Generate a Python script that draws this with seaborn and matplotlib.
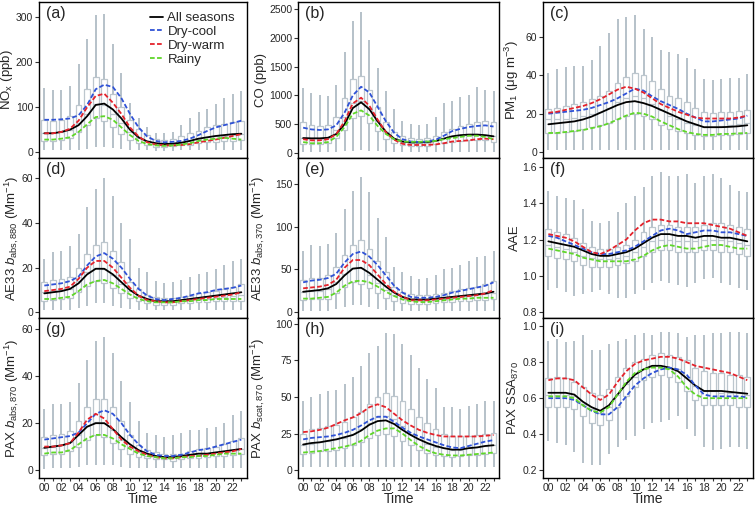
import numpy as np
import pandas as pd
import matplotlib
matplotlib.use('Agg')
import matplotlib.pyplot as plt
import seaborn as sns

hours = list(range(24))
even_hours = [0, 2, 4, 6, 8, 10, 12, 14, 16, 18, 20, 22]
even_labels = ['00', '02', '04', '06', '08', '10', '12', '14', '16', '18', '20', '22']
series_names = ['All seasons', 'Dry-cool', 'Dry-warm', 'Rainy']

# (a) NOx
nox_lo = [5, 4, 4, 4, 5, 8, 12, 12, 10, 7, 5, 4, 4, 3, 3, 3, 4, 4, 5, 5, 5, 5, 5, 5]
nox_q1 = [25, 25, 28, 32, 45, 60, 75, 70, 55, 40, 28, 20, 15, 12, 12, 13, 15, 17, 20, 22, 23, 24, 25, 26]
nox_med = [42, 42, 45, 50, 65, 85, 108, 105, 85, 65, 45, 32, 24, 19, 18, 19, 22, 26, 30, 33, 35, 37, 38, 40]
nox_q3 = [72, 70, 72, 80, 105, 140, 168, 163, 130, 100, 72, 52, 38, 30, 28, 30, 35, 42, 48, 55, 60, 63, 66, 70]
nox_hi = [142, 138, 138, 148, 195, 252, 305, 307, 240, 175, 110, 75, 55, 42, 42, 45, 60, 75, 90, 95, 108, 120, 130, 135]
nox_all = [42, 42, 45, 50, 60, 80, 105, 108, 95, 75, 50, 33, 24, 20, 18, 19, 21, 25, 30, 33, 36, 38, 40, 41]
nox_cool = [72, 72, 73, 75, 82, 105, 140, 150, 145, 120, 85, 55, 35, 25, 22, 23, 25, 30, 38, 47, 55, 60, 65, 70]
nox_warm = [42, 42, 45, 52, 70, 100, 125, 130, 110, 85, 55, 35, 22, 17, 15, 15, 16, 18, 22, 25, 28, 32, 36, 40]
nox_rainy = [28, 28, 30, 33, 45, 62, 78, 80, 72, 55, 38, 25, 18, 15, 14, 15, 17, 20, 25, 28, 30, 32, 30, 28]

# (b) CO
co_lo = [20, 15, 15, 15, 20, 30, 40, 50, 40, 30, 20, 15, 15, 15, 15, 15, 20, 20, 20, 20, 20, 20, 20, 20]
co_q1 = [160, 150, 150, 170, 260, 400, 600, 640, 520, 380, 250, 180, 140, 130, 125, 130, 150, 180, 200, 210, 220, 230, 220, 200]
co_med = [260, 240, 240, 260, 400, 620, 870, 900, 760, 560, 360, 250, 200, 180, 175, 180, 210, 260, 290, 310, 320, 330, 320, 300]
co_q3 = [530, 480, 470, 490, 630, 950, 1290, 1340, 1100, 800, 530, 370, 290, 260, 250, 260, 300, 360, 420, 470, 500, 540, 560, 530]
co_hi = [1120, 1040, 1010, 990, 1180, 1760, 2290, 2450, 1960, 1480, 1080, 760, 560, 500, 490, 500, 620, 870, 900, 970, 1000, 1150, 1100, 1080]
co_all = [260, 255, 255, 265, 330, 500, 780, 880, 760, 550, 370, 250, 200, 185, 185, 190, 210, 250, 290, 310, 320, 320, 310, 290]
co_cool = [440, 410, 400, 410, 480, 700, 1000, 1150, 1050, 800, 550, 350, 240, 200, 190, 200, 230, 300, 380, 420, 450, 470, 480, 460]
co_warm = [240, 220, 220, 240, 330, 550, 860, 960, 820, 580, 360, 230, 160, 140, 140, 140, 150, 170, 200, 210, 220, 240, 250, 240]
co_rainy = [190, 170, 170, 190, 280, 450, 680, 740, 650, 470, 330, 240, 200, 195, 195, 200, 210, 240, 260, 280, 300, 300, 280, 240]

# (c) PM1
pm_lo = [1, 1, 1, 1, 1, 1, 1, 1, 1, 1, 1, 1, 1, 1, 1, 1, 1, 1, 1, 1, 1, 1, 1, 1]
pm_q1 = [10, 10, 10.5, 11, 12, 13, 14, 15, 17, 19, 20, 19, 17, 14, 12, 11, 10, 9, 8.5, 8.5, 9, 9, 9.5, 10]
pm_med = [17, 17, 17.5, 18, 19, 20, 21, 23, 26, 28, 29, 28, 25, 22, 19, 17, 15, 14, 13, 13, 13.5, 14, 14.5, 15]
pm_q3 = [22.5, 23, 24, 25, 26, 27.5, 29, 32, 36, 39, 41, 40, 37, 33, 29, 28, 26, 23, 21, 20.5, 21, 21, 21.5, 22]
pm_hi = [41, 43, 44, 45, 45, 48, 55, 62, 69, 70, 71, 64, 60, 53, 52, 51, 49, 43, 38, 37.5, 38, 38.7, 38.7, 40.7]
pm_all = [14.5, 15, 15.5, 16, 17, 18.5, 20.5, 22.5, 24.5, 26, 26.5, 25.5, 24, 22, 20, 18, 16, 14.5, 13, 13, 13, 13.2, 13.5, 14]
pm_cool = [20, 20.5, 21, 21.5, 22, 23, 24.5, 26, 28, 30.5, 33, 32, 29, 26.5, 24.5, 22.5, 20, 18, 16, 16, 16.5, 17, 17.5, 19]
pm_warm = [20.5, 21, 22, 23, 24, 25.5, 27.5, 30, 32.5, 34, 33, 31, 28, 25, 23, 21, 19.5, 18, 17.5, 17.5, 17.5, 17.5, 18, 19]
pm_rainy = [10, 10, 10.5, 11, 11.5, 12.5, 13.5, 15, 17, 19, 20.5, 20, 18.5, 16, 14, 12, 10.5, 9.5, 9, 9, 9.5, 9.5, 9.8, 10]

# (d) AE33 babs,880
ae880_lo = [1, 1, 1, 1, 2, 3, 4, 4, 3, 2, 1.5, 1, 1, 1, 1, 1, 1, 1, 1, 1, 1, 1, 1, 1]
ae880_q1 = [5, 5.5, 6, 6.5, 9, 12, 14, 13, 11, 8.5, 6.5, 5, 4, 3.5, 3.5, 3.5, 4, 4, 4.5, 4.5, 5, 5, 5, 5]
ae880_med = [9, 9.5, 10, 10.5, 14, 18, 20, 19.5, 16.5, 12.5, 9.5, 7, 5.5, 5, 5, 5, 5, 5.5, 6, 6, 6.5, 7, 7.5, 8]
ae880_q3 = [13.5, 14.5, 15, 16, 20, 26, 30, 31.5, 27.5, 22.5, 13.5, 10.5, 8, 7, 6.5, 6.5, 7, 7.5, 8.5, 9, 9.5, 10.5, 11.5, 12.5]
ae880_hi = [24, 27, 27.5, 29.5, 35, 47, 55, 60, 52, 40, 33, 20, 18, 14, 13, 13.5, 14.5, 16, 17, 18, 19.5, 21, 23, 24]
ae880_all = [8.5, 9, 9.5, 10.5, 13, 17, 19.5, 19.5, 17, 13.5, 10, 7.5, 6, 5, 5, 5, 5.5, 6, 6.5, 7, 7.5, 8, 8.5, 9]
ae880_cool = [12, 12.5, 13, 14, 16, 21, 25, 26.5, 24, 20, 15, 10.5, 7.5, 6, 5.5, 6, 6.5, 7.5, 8.5, 9, 10, 10.5, 11, 12]
ae880_warm = [9.5, 10, 10.5, 11.5, 15, 20, 23, 23, 20, 15.5, 11, 7.5, 5.5, 5, 4.5, 4.5, 5, 5.5, 6, 6.5, 7, 7.5, 8, 9]
ae880_rainy = [6, 6, 6.5, 7, 9.5, 12.5, 14, 14.5, 13, 10.5, 8, 6, 5, 4.5, 4.5, 4.5, 5, 5, 5.5, 5.5, 6, 6, 6, 6]

# (e) AE33 babs,370
ae370_lo = [2, 2, 2, 2, 4, 6, 8, 8, 6, 4, 3, 2, 2, 2, 2, 2, 2, 2, 2, 2, 2, 2, 2, 2]
ae370_q1 = [14, 15, 15, 16, 22, 30, 35, 33, 28, 22, 17, 13, 11, 10, 10, 10, 11, 12, 12, 13, 13, 14, 14, 15]
ae370_med = [24, 25, 25, 27, 35, 45, 52, 52, 44, 34, 26, 20, 16, 14, 14, 14, 15, 16, 17, 18, 19, 20, 21, 22]
ae370_q3 = [38, 40, 40, 43, 53, 67, 78, 84, 74, 60, 47, 30, 24, 21, 20, 20, 21, 23, 25, 27, 28, 30, 33, 37]
ae370_hi = [72, 78, 77, 80, 92, 120, 142, 158, 140, 110, 88, 53, 47, 42, 39, 40, 43, 50, 52, 55, 60, 64, 66, 71]
ae370_all = [24, 25, 26, 28, 33, 43, 51, 52, 46, 38, 30, 23, 18, 15, 15, 15, 16, 17, 18, 19, 20, 21, 22, 24]
ae370_cool = [35, 37, 38, 40, 45, 58, 68, 71, 65, 55, 43, 31, 23, 18, 17, 17, 18, 20, 23, 25, 27, 29, 31, 35]
ae370_warm = [28, 29, 30, 32, 38, 52, 61, 61, 55, 44, 33, 24, 18, 14, 14, 14, 15, 16, 17, 18, 19, 20, 22, 26]
ae370_rainy = [16, 16, 17, 18, 23, 31, 36, 37, 35, 30, 24, 19, 15, 13, 12, 12, 13, 14, 15, 16, 16, 17, 17, 17]

# (f) AAE
aae_lo = [0.92, 0.93, 0.91, 0.89, 0.90, 0.91, 0.92, 0.90, 0.88, 0.88, 0.90, 0.92, 0.96, 0.97, 0.96, 0.95, 0.94, 0.96, 0.98, 0.99, 0.96, 0.95, 0.93, 0.92]
aae_q1 = [1.11, 1.10, 1.09, 1.08, 1.06, 1.05, 1.05, 1.05, 1.06, 1.07, 1.08, 1.11, 1.13, 1.14, 1.14, 1.13, 1.13, 1.13, 1.14, 1.14, 1.13, 1.13, 1.12, 1.11]
aae_med = [1.17, 1.16, 1.15, 1.13, 1.11, 1.10, 1.09, 1.09, 1.10, 1.11, 1.13, 1.16, 1.19, 1.20, 1.20, 1.19, 1.19, 1.19, 1.20, 1.20, 1.20, 1.19, 1.18, 1.17]
aae_q3 = [1.26, 1.24, 1.23, 1.21, 1.18, 1.16, 1.15, 1.15, 1.16, 1.17, 1.20, 1.24, 1.27, 1.28, 1.28, 1.27, 1.27, 1.27, 1.28, 1.29, 1.29, 1.28, 1.27, 1.26]
aae_hi = [1.47, 1.44, 1.43, 1.42, 1.37, 1.30, 1.29, 1.30, 1.35, 1.40, 1.44, 1.49, 1.55, 1.57, 1.55, 1.55, 1.56, 1.51, 1.55, 1.56, 1.54, 1.50, 1.47, 1.46]
aae_all = [1.19, 1.18, 1.17, 1.16, 1.14, 1.12, 1.11, 1.11, 1.12, 1.13, 1.15, 1.18, 1.21, 1.23, 1.23, 1.22, 1.22, 1.21, 1.22, 1.22, 1.21, 1.21, 1.20, 1.19]
aae_cool = [1.22, 1.21, 1.19, 1.17, 1.15, 1.13, 1.12, 1.12, 1.13, 1.14, 1.16, 1.19, 1.22, 1.25, 1.26, 1.25, 1.23, 1.24, 1.25, 1.25, 1.24, 1.24, 1.23, 1.22]
aae_warm = [1.23, 1.22, 1.21, 1.19, 1.16, 1.13, 1.12, 1.14, 1.17, 1.20, 1.25, 1.29, 1.31, 1.31, 1.30, 1.30, 1.29, 1.29, 1.29, 1.28, 1.27, 1.26, 1.24, 1.22]
aae_rainy = [1.15, 1.14, 1.13, 1.12, 1.10, 1.09, 1.08, 1.08, 1.08, 1.08, 1.09, 1.11, 1.14, 1.16, 1.17, 1.16, 1.15, 1.15, 1.16, 1.17, 1.17, 1.16, 1.15, 1.15]

# (g) PAX babs,870
pabs_lo = [0.5, 1, 1, 1, 1.5, 2, 2, 2, 2, 1.5, 1, 1, 1, 1, 1, 1, 1, 1, 1, 1, 1, 1, 1, 1]
pabs_q1 = [6.5, 7, 7, 8, 10, 13, 15, 14, 11.5, 9, 7, 5.5, 5, 4.5, 4.5, 4, 4.5, 5, 5, 5.5, 6, 6, 6.5, 7]
pabs_med = [9.5, 10, 10.5, 12, 15, 19, 20.5, 20, 17, 13, 10, 7.5, 6, 5.5, 5.5, 5, 5.5, 6, 6.5, 7, 7.5, 8, 8.5, 9]
pabs_q3 = [14, 15, 15.5, 16.5, 21, 27, 30.5, 30.5, 27, 21, 15, 10.5, 8.5, 7.5, 7, 7, 7, 8, 9, 9.5, 10, 11, 12.5, 13.5]
pabs_hi = [26, 28, 28, 29, 37, 47, 55, 57, 50, 38, 29, 21, 16, 15, 14, 15, 16, 17, 17, 18, 18.5, 20, 23.5, 25]
pabs_all = [9.5, 10, 10.5, 11.5, 15, 18.5, 20, 20, 17.5, 14, 11, 8.5, 7, 6, 5.5, 5.5, 6, 6.5, 7, 7, 7.5, 8, 8.5, 9]
pabs_cool = [13, 13.5, 14, 14.5, 16, 20, 24, 25.5, 24, 20, 15, 11, 8, 6.5, 6, 6, 6.5, 7.5, 8.5, 9, 10, 11, 12, 13]
pabs_warm = [10, 10, 10.5, 11.5, 16, 21.5, 24, 22, 17.5, 13, 10, 8, 6.5, 5.5, 5, 5, 5.5, 6, 6, 6.5, 7, 7.5, 8, 9]
pabs_rainy = [7, 7.5, 7.5, 8.5, 11, 13.5, 15, 15, 13.5, 11, 9, 7, 6, 5.5, 5, 5, 5.5, 5.5, 6, 6, 6.5, 7, 7, 7]

# (h) PAX bscat,870
pscat_lo = [2, 2, 2, 2, 2, 2, 2, 2, 2, 2, 2, 2, 2, 2, 2, 2, 2, 2, 2, 2, 2, 2, 2, 2]
pscat_q1 = [11, 12, 13, 13, 14, 15, 17, 19, 22, 24, 25, 23, 20, 17, 14, 12, 10, 9.5, 9, 9.5, 10, 10.5, 11, 11.5]
pscat_med = [17, 18, 19, 20, 21, 22, 25, 28, 32, 36, 37, 35, 30, 25, 21, 18, 16, 15, 14, 14, 15, 16, 16.5, 17]
pscat_q3 = [25, 28, 29, 30, 31, 33, 36, 40, 45, 50, 53, 51, 47, 42, 36, 32, 28, 25, 23, 23, 23, 24, 25, 25.5]
pscat_hi = [47, 50, 52, 54, 55, 59, 64, 71, 80, 85, 94, 93, 86, 79, 70, 62, 56, 43, 43, 42, 43.5, 45.5, 47, 47]
pscat_all = [17.5, 18.5, 19, 20, 21, 22.5, 24, 27, 31, 33.5, 34, 31.5, 27.5, 24, 21, 18.5, 16.5, 15, 14, 14, 15, 15.5, 16.5, 17]
pscat_cool = [21, 22, 22.5, 23, 24, 25.5, 27.5, 30.5, 34, 36.5, 36.5, 33, 29, 25.5, 23, 21, 19, 17, 15.5, 15, 16.5, 18, 19.5, 20.5]
pscat_warm = [26, 26.5, 27.5, 29, 31.5, 34, 36, 39, 43, 45, 43, 38.5, 34, 30.5, 27.5, 25.5, 24, 23, 23, 23, 23, 23, 23.5, 24]
pscat_rainy = [12, 12.5, 13, 14, 15, 16, 17.5, 20, 24, 27, 28.5, 28.5, 25, 20.5, 16.5, 13.5, 11.5, 10.5, 10, 10, 10.5, 11, 11.5, 12]

# (i) PAX SSA870
ssa_lo = [0.36, 0.35, 0.34, 0.30, 0.24, 0.23, 0.23, 0.29, 0.33, 0.37, 0.39, 0.43, 0.46, 0.47, 0.48, 0.50, 0.43, 0.39, 0.33, 0.31, 0.32, 0.33, 0.33, 0.32]
ssa_q1 = [0.55, 0.55, 0.55, 0.54, 0.50, 0.46, 0.45, 0.48, 0.55, 0.61, 0.66, 0.70, 0.72, 0.73, 0.72, 0.69, 0.64, 0.59, 0.56, 0.56, 0.56, 0.56, 0.55, 0.55]
ssa_med = [0.62, 0.62, 0.62, 0.61, 0.57, 0.54, 0.52, 0.55, 0.62, 0.68, 0.72, 0.76, 0.78, 0.78, 0.77, 0.76, 0.72, 0.67, 0.64, 0.64, 0.63, 0.63, 0.63, 0.62]
ssa_q3 = [0.71, 0.72, 0.71, 0.69, 0.66, 0.63, 0.62, 0.65, 0.72, 0.77, 0.80, 0.82, 0.84, 0.85, 0.84, 0.83, 0.81, 0.77, 0.75, 0.74, 0.74, 0.73, 0.73, 0.72]
ssa_hi = [0.92, 0.93, 0.91, 0.92, 0.95, 0.87, 0.87, 0.90, 0.92, 0.93, 0.95, 0.96, 0.95, 0.97, 0.97, 0.96, 0.94, 0.95, 0.95, 0.96, 0.96, 0.97, 0.97, 0.96]
ssa_all = [0.63, 0.63, 0.63, 0.62, 0.58, 0.55, 0.53, 0.56, 0.62, 0.68, 0.73, 0.76, 0.78, 0.78, 0.77, 0.75, 0.71, 0.67, 0.64, 0.64, 0.64, 0.635, 0.63, 0.625]
ssa_cool = [0.60, 0.60, 0.60, 0.59, 0.56, 0.53, 0.51, 0.51, 0.55, 0.61, 0.67, 0.71, 0.74, 0.76, 0.77, 0.76, 0.73, 0.67, 0.62, 0.61, 0.61, 0.61, 0.61, 0.605]
ssa_warm = [0.70, 0.71, 0.71, 0.70, 0.66, 0.62, 0.59, 0.62, 0.69, 0.75, 0.79, 0.81, 0.82, 0.83, 0.83, 0.82, 0.80, 0.78, 0.77, 0.76, 0.75, 0.74, 0.72, 0.70]
ssa_rainy = [0.61, 0.61, 0.61, 0.60, 0.56, 0.53, 0.52, 0.55, 0.62, 0.69, 0.74, 0.76, 0.77, 0.77, 0.76, 0.72, 0.66, 0.62, 0.60, 0.60, 0.60, 0.60, 0.60, 0.60]

line_colors = ['black', '#2f52d6', '#e4222b', '#5fd62a']
line_styles = ['-', (0, (2.6, 1.3)), (0, (2.6, 1.3)), (0, (2.6, 1.3))]
box_edge = '#bcc6cd'
whisker_col = '#b5c1c9'

panels = [
    ('(a)', 'NO$_\\mathrm{x}$ (ppb)', [nox_lo, nox_q1, nox_med, nox_q3, nox_hi],
     [nox_all, nox_cool, nox_warm, nox_rainy], (-13, 334), [0, 100, 200, 300], None),
    ('(b)', 'CO (ppb)', [co_lo, co_q1, co_med, co_q3, co_hi],
     [co_all, co_cool, co_warm, co_rainy], (-86, 2620), [0, 500, 1000, 1500, 2000, 2500], None),
    ('(c)', 'PM$_1$ (μg m$^{-3}$)', [pm_lo, pm_q1, pm_med, pm_q3, pm_hi],
     [pm_all, pm_cool, pm_warm, pm_rainy], (-3, 78), [0, 20, 40, 60], None),
    ('(d)', 'AE33 $b_\\mathrm{abs,880}$ (Mm$^{-1}$)', [ae880_lo, ae880_q1, ae880_med, ae880_q3, ae880_hi],
     [ae880_all, ae880_cool, ae880_warm, ae880_rainy], (-2.5, 69), [0, 20, 40, 60], None),
    ('(e)', 'AE33 $b_\\mathrm{abs,370}$ (Mm$^{-1}$)', [ae370_lo, ae370_q1, ae370_med, ae370_q3, ae370_hi],
     [ae370_all, ae370_cool, ae370_warm, ae370_rainy], (-6.6, 180), [0, 50, 100, 150], None),
    ('(f)', 'AAE', [aae_lo, aae_q1, aae_med, aae_q3, aae_hi],
     [aae_all, aae_cool, aae_warm, aae_rainy], (0.767, 1.65), [0.8, 1.0, 1.2, 1.4, 1.6], '%.1f'),
    ('(g)', 'PAX $b_\\mathrm{abs,870}$ (Mm$^{-1}$)', [pabs_lo, pabs_q1, pabs_med, pabs_q3, pabs_hi],
     [pabs_all, pabs_cool, pabs_warm, pabs_rainy], (-3.4, 64.9), [0, 20, 40, 60], None),
    ('(h)', 'PAX $b_\\mathrm{scat,870}$ (Mm$^{-1}$)', [pscat_lo, pscat_q1, pscat_med, pscat_q3, pscat_hi],
     [pscat_all, pscat_cool, pscat_warm, pscat_rainy], (-5.4, 104), [0, 25, 50, 75, 100], None),
    ('(i)', 'PAX SSA$_{870}$', [ssa_lo, ssa_q1, ssa_med, ssa_q3, ssa_hi],
     [ssa_all, ssa_cool, ssa_warm, ssa_rainy], (0.156, 1.046), [0.2, 0.4, 0.6, 0.8, 1.0], '%.1f'),
]

sns.set_style('ticks')
plt.rcParams['font.family'] = ['Liberation Sans', 'DejaVu Sans']
plt.rcParams['mathtext.fontset'] = 'custom'
plt.rcParams['mathtext.rm'] = 'Liberation Sans'
plt.rcParams['mathtext.it'] = 'Liberation Sans:italic'
plt.rcParams['mathtext.bf'] = 'Liberation Sans:bold'


def box_frame(stats):
    rows = []
    for h in hours:
        for s in stats:
            rows.append((h, s[h]))
    return pd.DataFrame(rows, columns=['hour', 'value'])


W, H = 756, 507
col_px = [(39, 208), (298, 201), (543, 210)]
row_px = [(2, 156), (158, 160), (318, 160)]
# ylabel x (axes fraction) per panel, tuned so labels clear tick labels and the figure edge
label_x = [-0.115, -0.155, -0.105, -0.088, -0.155, -0.105, -0.088, -0.155, -0.105]

fig = plt.figure(figsize=(7.56, 5.07), dpi=100)
for i, (tag, ylab, stats, lines, ylim, yticks, fmt) in enumerate(panels):
    r, c = divmod(i, 3)
    x0, w = col_px[c]
    y0, h = row_px[r]
    ax = fig.add_axes([x0 / W, (H - y0 - h) / H, w / W, h / H])

    df = box_frame(stats)
    sns.boxplot(data=df, x='hour', y='value', order=hours, whis=np.inf, width=0.68,
                color='white', saturation=1, linecolor=box_edge, linewidth=0.9,
                showcaps=False, showfliers=False,
                whiskerprops={'color': whisker_col, 'linewidth': 1.4}, ax=ax)

    for vals, name, col, ls in zip(lines, series_names, line_colors, line_styles):
        sns.lineplot(x=hours, y=vals, color=col, linestyle=ls, linewidth=1.3,
                     label=name, legend=False, ax=ax, zorder=5)

    ax.set_xlim(-0.62, 23.66)
    ax.set_ylim(*ylim)
    ax.set_yticks(yticks)
    if fmt:
        ax.set_yticklabels([fmt % t for t in yticks])
    else:
        ax.set_yticklabels([str(t) for t in yticks])
    ax.set_ylabel(ylab, fontsize=9.5)
    ax.yaxis.set_label_coords(label_x[i], 0.5)
    ax.tick_params(axis='y', direction='out', length=3, width=0.8, labelsize=7.5, pad=1.2, color='#333333')
    for sp in ax.spines.values():
        sp.set_visible(True)
        sp.set_color('black')
        sp.set_linewidth(1.0)

    if r == 2:
        ax.set_xticks(hours)
        ax.set_xticklabels([even_labels[even_hours.index(hh)] if hh in even_hours else '' for hh in hours])
        ax.tick_params(axis='x', direction='out', length=2.5, width=0.8, labelsize=7.5, pad=0.8, color='#333333')
        ax.set_xlabel('Time', fontsize=10)
        ax.xaxis.set_label_coords(0.5, -0.086)
    else:
        ax.set_xticks([])
        ax.set_xlabel('')

    ax.text(0.035, 0.975, tag, transform=ax.transAxes, fontsize=11.5, va='top', ha='left')

    if i == 0:
        ax.legend(loc='upper right', bbox_to_anchor=(0.99, 1.0), frameon=False, fontsize=9.5,
                  handlelength=1.0, handletextpad=0.35, labelspacing=0.12, borderaxespad=0.35)

plt.savefig('out.png', dpi=100)
